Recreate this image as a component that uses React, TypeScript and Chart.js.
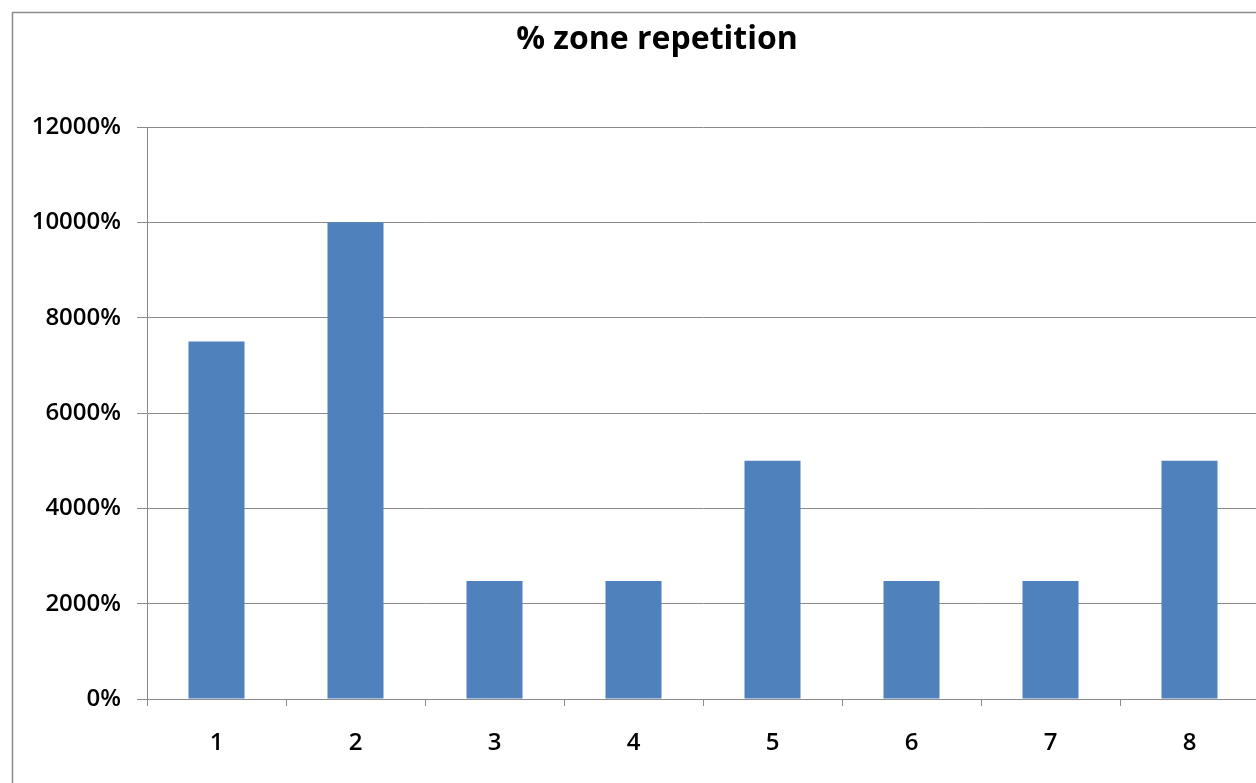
import React, { useEffect, useRef } from "react";
import { Chart, registerables } from "chart.js";

Chart.register(...registerables);

const categories = ["1", "2", "3", "4", "5", "6", "7", "8"];
const repetitionValues = [7500, 10000, 2475, 2475, 5000, 2475, 2475, 5000];
const chartTitle = "% zone repetition";
const yMin = 0;
const yMax = 12000;
const yStep = 2000;

const W = 1314;
const H = 783;
const GRID = "#8a8a8a";

const borderPlugin = {
  id: "outerBorder",
  beforeDraw(chart: any) {
    const ctx = chart.ctx;
    ctx.save();
    ctx.fillStyle = "#ffffff";
    ctx.fillRect(0, 0, chart.width, chart.height);
    ctx.strokeStyle = "#8c8c8c";
    ctx.lineWidth = 1.5;
    ctx.strokeRect(12.5, 12.5, chart.width + 50, chart.height + 50);
    ctx.restore();
  },
};

export default function App() {
  const ref = useRef<HTMLCanvasElement | null>(null);

  useEffect(() => {
    if (!ref.current) return;
    const chart = new Chart(ref.current, {
      type: "bar",
      data: {
        labels: categories,
        datasets: [
          {
            label: chartTitle,
            data: repetitionValues,
            backgroundColor: "#4F81BD",
            borderWidth: 0,
            categoryPercentage: 1,
            barPercentage: 0.403,
          },
        ],
      },
      options: {
        responsive: false,
        animation: false,
        devicePixelRatio: 1,
        layout: { padding: { top: 10, right: 0, left: 0, bottom: 0 } },
        plugins: {
          legend: { display: false },
          tooltip: { enabled: false },
          title: {
            display: true,
            text: chartTitle,
            color: "#000000",
            font: { family: "'Open Sans'", size: 32, weight: "bold", lineHeight: 1.2 },
            padding: { top: 11, bottom: 67.6 },
          },
        },
        scales: {
          x: {
            grid: {
              display: true,
              drawOnChartArea: false,
              drawTicks: true,
              tickLength: 7,
              color: GRID,
              offset: true,
            },
            border: { display: true, color: GRID, width: 1 },
            ticks: {
              color: "#000000",
              font: { family: "'Open Sans'", size: 24, weight: 600, lineHeight: 1.2 },
              padding: 23,
              maxRotation: 0,
            },
            afterFit: (s: any) => {
              s.height = 84;
            },
          },
          y: {
            min: yMin,
            max: yMax,
            grid: {
              color: GRID,
              drawTicks: true,
              tickLength: 10,
            },
            border: { display: true, color: GRID, width: 1 },
            ticks: {
              stepSize: yStep,
              color: "#000000",
              font: { family: "'Open Sans'", size: 24, weight: 600, lineHeight: 1.2 },
              padding: 16,
              callback: (v: any) => `${v}%`,
            },
            afterFit: (s: any) => {
              s.width = 147;
            },
          },
          spacer: {
            type: "linear",
            position: "right",
            min: 0,
            max: 1,
            grid: { display: false, drawOnChartArea: false, drawTicks: false },
            border: { display: false },
            ticks: { display: false },
            afterFit: (s: any) => {
              s.width = W - 1259;
            },
          },
        },
      },
      plugins: [borderPlugin],
    });
    return () => chart.destroy();
  }, []);

  return (
    <div style={{ position: "fixed", left: 0, top: 0, width: W, height: H, overflow: "hidden", background: "#fff" }}>
      <canvas ref={ref} width={W} height={H} style={{ display: "block", width: W, height: H }} />
    </div>
  );
}
